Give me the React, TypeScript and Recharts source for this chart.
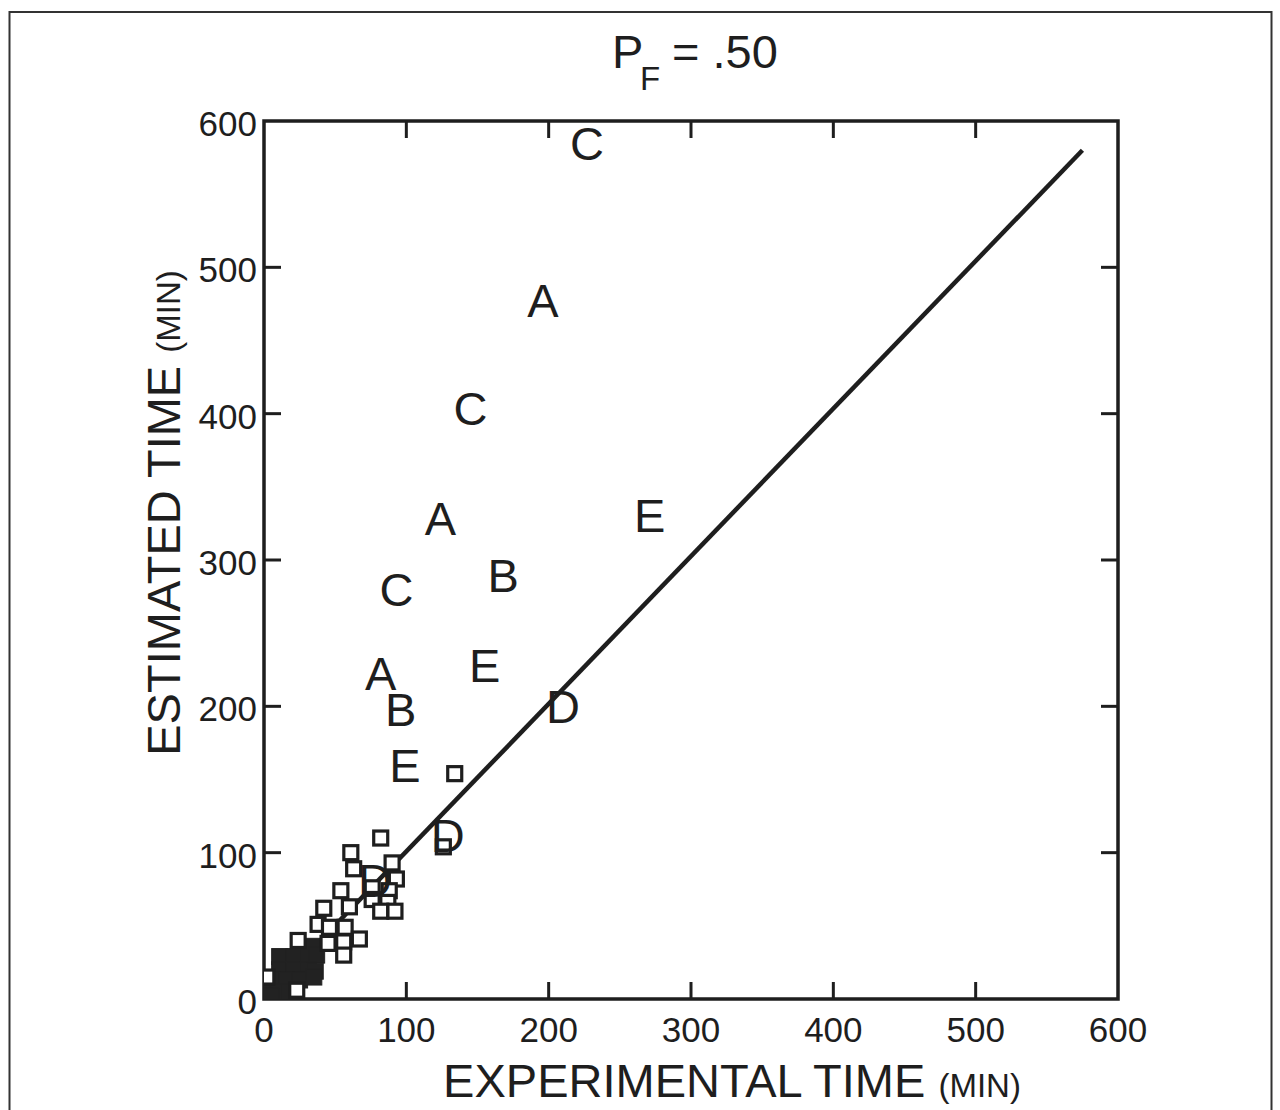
import React from "react";
import {
  ScatterChart,
  Scatter,
  XAxis,
  YAxis,
  ReferenceArea,
} from "recharts";

// page / plot box (pixels)
const W = 1280;
const H = 1110;
const PL = 264;
const PR = 1118;
const PT = 121;
const PB = 999;
const TICK = 17;
const INK = "#1e1e1e";
const FONT = "'Liberation Sans', Arial, Helvetica, sans-serif";

const axisTicks = [0, 100, 200, 300, 400, 500, 600];

// fitted line (estimated = experimental)
const fitLine = [
  { x: 0, y: 0 },
  { x: 575, y: 580 },
];

// open squares
const openSquares = [
  { x: 82, y: 110 }, { x: 61, y: 100 }, { x: 63, y: 89 }, { x: 90, y: 93 },
  { x: 93, y: 82 }, { x: 76, y: 76 }, { x: 54, y: 74 }, { x: 88, y: 74 },
  { x: 60, y: 63 }, { x: 76, y: 68 }, { x: 87, y: 66 }, { x: 82, y: 60 },
  { x: 92, y: 60 }, { x: 42, y: 62 }, { x: 38, y: 51 }, { x: 46, y: 49 },
  { x: 57, y: 49 }, { x: 67, y: 41 }, { x: 56, y: 39 }, { x: 45, y: 38 },
  { x: 56, y: 30 }, { x: 24, y: 40 }, { x: 2, y: 15 }, { x: 23, y: 6 },
  { x: 134, y: 154 }, { x: 126, y: 104 },
];

// filled squares (dense cluster near the origin)
const filledSquares = [
  { x: 34, y: 36 }, { x: 11, y: 29 }, { x: 21, y: 29 }, { x: 31, y: 29 },
  { x: 37, y: 30 }, { x: 11, y: 20 }, { x: 21, y: 20 }, { x: 31, y: 20 },
  { x: 36, y: 19 }, { x: 6, y: 13 }, { x: 16, y: 13 }, { x: 25, y: 13 },
  { x: 35, y: 15 }, { x: 1, y: 5 }, { x: 10, y: 5 }, { x: 18, y: 5 },
  { x: 0, y: 2 }, { x: 5, y: 2 },
];

// lettered cases
const letterPoints = [
  { x: 227, y: 585, t: "C" },
  { x: 196, y: 478, t: "A" },
  { x: 145, y: 404, t: "C" },
  { x: 124, y: 329, t: "A" },
  { x: 271, y: 331, t: "E" },
  { x: 168, y: 290, t: "B" },
  { x: 93, y: 280, t: "C" },
  { x: 82, y: 223, t: "A" },
  { x: 155, y: 228, t: "E" },
  { x: 96, y: 198, t: "B" },
  { x: 210, y: 200, t: "D" },
  { x: 99, y: 160, t: "E" },
  { x: 129, y: 112, t: "D" },
  { x: 78, y: 81, t: "D" },
];

function XTick(props: any) {
  const { x, payload } = props;
  const v = payload.value;
  const inner = v > 0 && v < 600;
  return (
    <g>
      {inner && <line x1={x} x2={x} y1={PB} y2={PB - TICK} stroke={INK} strokeWidth={3} />}
      {inner && <line x1={x} x2={x} y1={PT} y2={PT + TICK} stroke={INK} strokeWidth={3} />}
      <text x={x} y={PB + 43} textAnchor="middle" fontSize={35} fontFamily={FONT} fill={INK}>
        {v}
      </text>
    </g>
  );
}

function YTick(props: any) {
  const { y, payload } = props;
  const v = payload.value;
  const inner = v > 0 && v < 600;
  return (
    <g>
      {inner && <line x1={PL} x2={PL + TICK} y1={y} y2={y} stroke={INK} strokeWidth={3} />}
      {inner && <line x1={PR} x2={PR - TICK} y1={y} y2={y} stroke={INK} strokeWidth={3} />}
      <text x={PL - 7} y={y + 15} textAnchor="end" fontSize={35} fontFamily={FONT} fill={INK}>
        {v}
      </text>
    </g>
  );
}

const OpenSquare = (p: any) => (
  <rect x={p.cx - 7} y={p.cy - 7} width={14} height={14} fill="#fff" stroke={INK} strokeWidth={3.2} />
);

const FilledSquare = (p: any) => (
  <rect x={p.cx - 8} y={p.cy - 8} width={16} height={16} fill="#222" stroke="#222" strokeWidth={1} />
);

const Letter = (p: any) => (
  <text x={p.cx} y={p.cy + 17} textAnchor="middle" fontSize={47} fontFamily={FONT} fill={INK}>
    {p.payload.t}
  </text>
);

const NoDot = () => <g />;

export default function App() {
  return (
    <div style={{ position: "absolute", left: 0, top: 0, width: W, height: H, background: "#fff" }}>
      <ScatterChart
        width={W}
        height={H}
        margin={{ top: PT, right: W - PR, bottom: 0, left: 0 }}
      >
        <XAxis
          type="number"
          dataKey="x"
          domain={[0, 600]}
          ticks={axisTicks}
          height={H - PB}
          axisLine={false}
          tickLine={false}
          tick={<XTick />}
          allowDataOverflow
        />
        <YAxis
          type="number"
          dataKey="y"
          domain={[0, 600]}
          ticks={axisTicks}
          width={PL}
          axisLine={false}
          tickLine={false}
          tick={<YTick />}
          allowDataOverflow
        />
        <Scatter
          data={fitLine}
          line={{ stroke: INK, strokeWidth: 4.5 }}
          shape={NoDot}
          isAnimationActive={false}
        />
        <Scatter data={filledSquares} shape={FilledSquare} isAnimationActive={false} />
        <Scatter data={openSquares} shape={OpenSquare} isAnimationActive={false} />
        <Scatter data={letterPoints} shape={Letter} isAnimationActive={false} />
        <ReferenceArea
          x1={0}
          x2={600}
          y1={0}
          y2={600}
          fill="none"
          fillOpacity={0}
          stroke={INK}
          strokeWidth={3.5}
          ifOverflow="visible"
        />
      </ScatterChart>
      <svg
        width={W}
        height={H}
        style={{ position: "absolute", left: 0, top: 0, pointerEvents: "none" }}
      >
        <rect x={9.5} y={12} width={1262} height={1120} fill="none" stroke="#333" strokeWidth={2} />
        <g fontFamily={FONT} fill={INK}>
          <text x={612} y={68} fontSize={47}>P</text>
          <text x={640} y={90} fontSize={33}>F</text>
          <text x={672} y={68} fontSize={47}>= .50</text>
          <text x={732} y={1097} fontSize={47} textAnchor="middle">
            EXPERIMENTAL TIME <tspan fontSize={33}>(MIN)</tspan>
          </text>
          <text x={180} y={513} fontSize={47} textAnchor="middle" transform="rotate(-90 180 513)">
            ESTIMATED TIME <tspan fontSize={33}>(MIN)</tspan>
          </text>
        </g>
      </svg>
    </div>
  );
}
